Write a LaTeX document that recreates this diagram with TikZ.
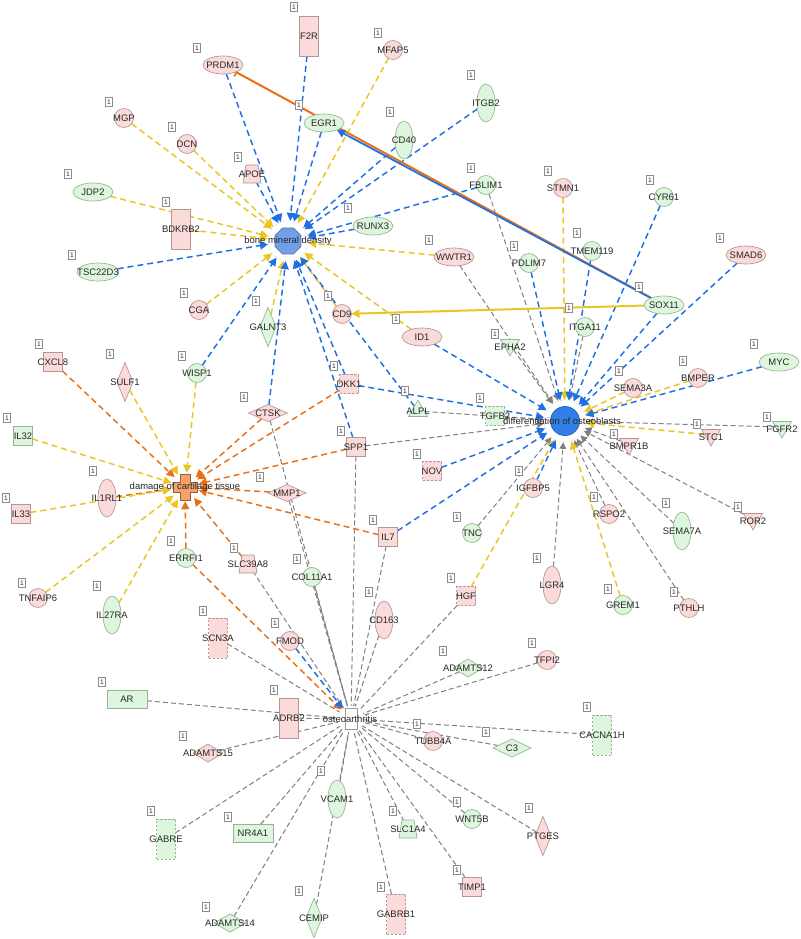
\documentclass[tikz,border=0pt]{standalone}
\usepackage{fontspec}
\setmainfont{Liberation Sans}
\usetikzlibrary{shapes.geometric,arrows.meta,backgrounds}
\definecolor{ye}{RGB}{234,198,34}
\definecolor{bl}{RGB}{30,112,228}
\definecolor{orr}{RGB}{234,112,22}
\definecolor{gr}{RGB}{128,128,128}
\definecolor{pk}{RGB}{251,218,218}
\definecolor{pkb}{RGB}{180,150,150}
\definecolor{gn}{RGB}{222,246,222}
\definecolor{gnb}{RGB}{150,180,150}
\definecolor{tx}{RGB}{40,40,40}
\definecolor{bmdf}{RGB}{112,160,232}
\definecolor{dof}{RGB}{48,128,232}
\definecolor{dctf}{RGB}{246,162,104}
\tikzset{
 lab/.style={font=\fontsize{7.1}{8}\selectfont, text=tx, inner sep=0pt},
 labd/.style={lab, yshift=-2pt},
 pkf/.style={draw=pkb, fill=pk, line width=0.5pt, inner sep=0pt, outer sep=0pt},
 gnf/.style={draw=gnb, fill=gn, line width=0.5pt, inner sep=0pt, outer sep=0pt},
 dnode/.style={dash pattern=on 1.8pt off 1.2pt},
 circ/.style={circle, minimum size=14.25pt},
 ell/.style={ellipse, minimum width=30pt, minimum height=13.5pt},
 vell/.style={ellipse, minimum width=13.5pt, minimum height=28.5pt},
 sq/.style={rectangle, minimum width=14.25pt, minimum height=14.25pt},
 trect/.style={rectangle, minimum width=14.25pt, minimum height=30pt},
 wrect/.style={rectangle, minimum width=30pt, minimum height=13.5pt},
 wdia/.style={diamond, minimum width=28.5pt, minimum height=12.75pt},
 sdia/.style={diamond, minimum width=22.5pt, minimum height=13.5pt},
 tdia/.style={diamond, minimum width=12pt, minimum height=29.25pt},
 triup/.style={regular polygon, regular polygon sides=3, minimum size=16.4pt},
 tridn/.style={triup, shape border rotate=180},
 conn/.style={circle, minimum size=13pt, inner sep=0pt, outer sep=0pt},
 onebox/.style={draw=black!45, fill=white, line width=0.4pt, font=\fontsize{5}{5}\selectfont, text=tx, inner sep=0pt, minimum width=5pt, minimum height=7pt},
 ey/.style={draw=ye, line width=1.1pt, dash pattern=on 4.5pt off 3pt, -{Triangle[length=6pt,width=6pt]}},
 eb/.style={ey, draw=bl},
 eo/.style={ey, draw=orr},
 eg/.style={draw=gr, line width=0.75pt, dash pattern=on 3.75pt off 2.25pt, -{Triangle[length=5pt,width=5pt]}},
 egn/.style={draw=gr, line width=0.75pt, dash pattern=on 3.75pt off 2.25pt},
}
\newcommand\mkone[3]{\node[onebox] (one-#1) at (#2,#3) {1};}
% trapezoid: name, x, y, fill style, text
\newcommand\mktrap[5]{\filldraw[#4] (#2-6,#3-9) -- (#2+6,#3-9) -- (#2+9,#3+9) -- (#2-9,#3+9) -- cycle;
 \node[conn,label={[lab]center:#5}] (#1) at (#2,#3) {};}
\begin{document}
\begin{tikzpicture}[x=0.75pt,y=-0.75pt]
\useasboundingbox (0,0) rectangle (800,939);
% hubs
\node[circle, minimum size=30pt, draw=black!22, line width=0.4pt, densely dotted, fill=white] (bmd) at (288,241) {};
\node[regular polygon, regular polygon sides=8, minimum size=21pt, inner sep=0pt, fill=bmdf, draw=bmdf!70!black, line width=0.5pt] (bmd-oct) at (288,241) {};
\node[circle, minimum size=31.5pt, draw=black!22, line width=0.4pt, densely dotted, fill=white] (dob) at (565,421) {};
\node[circle, minimum size=21.75pt, inner sep=0pt, fill=dof, draw=dof!70!black, line width=0.5pt] (dob-c) at (565,421) {};
\node[circle, minimum size=21pt] (dct) at (185,487) {};
\filldraw[fill=dctf, draw=dctf!60!black, line width=0.5pt] (180,474) -- (190,474) -- (190,482) -- (197,482) -- (197,492) -- (190,492) -- (190,500) -- (180,500) -- (180,492) -- (173,492) -- (173,482) -- (180,482) -- cycle;
\node[circle, minimum size=19.5pt] (oa) at (351,719) {};
\node[rectangle, minimum width=9pt, minimum height=16pt, fill=white, draw=black!40, line width=0.5pt] (oa-box) at (351,719) {};
% genes: upper left / BMD
\node[pkf,ell,label={[lab]center:PRDM1}] (prdm1) at (223,65) {};
\node[pkf,circ,label={[lab]center:MGP}] (mgp) at (124,118) {};
\node[pkf,circ,label={[lab]center:DCN}] (dcn) at (187,144) {};
\mktrap{apoe}{252}{174}{pkf}{APOE}
\node[gnf,ell,label={[lab]center:JDP2}] (jdp2) at (93,192) {};
\node[pkf,trect,label={[lab]center:BDKRB2}] (bdkrb2) at (181,229) {};
\node[gnf,ell,minimum width=31.5pt,label={[lab]center:TSC22D3}] (tsc22d3) at (98,272) {};
\node[pkf,circ,label={[lab]center:CGA}] (cga) at (199,310) {};
\node[pkf,trect,label={[lab]center:F2R}] (f2r) at (309,36) {};
\node[pkf,circ,label={[lab]center:MFAP5}] (mfap5) at (393,50) {};
\node[gnf,ell,label={[lab]center:EGR1}] (egr1) at (324,123) {};
\node[gnf,vell,label={[lab]center:CD40}] (cd40) at (404,140) {};
\node[gnf,vell,label={[lab]center:ITGB2}] (itgb2) at (486,103) {};
\node[gnf,circ,label={[lab]center:FBLIM1}] (fblim1) at (486,185) {};
\node[gnf,ell,label={[lab]center:RUNX3}] (runx3) at (373,226) {};
\node[pkf,ell,label={[lab]center:WWTR1}] (wwtr1) at (454,257) {};
\node[gnf,circ,label={[lab]center:PDLIM7}] (pdlim7) at (529,263) {};
\node[pkf,circ,label={[lab]center:CD9}] (cd9) at (342,314) {};
\node[pkf,circ,label={[lab]center:STMN1}] (stmn1) at (563,188) {};
\node[gnf,circ,label={[lab]center:CYR61}] (cyr61) at (664,197) {};
\node[gnf,circ,label={[lab]center:TMEM119}] (tmem119) at (592,251) {};
\node[pkf,ell,label={[lab]center:SMAD6}] (smad6) at (746,255) {};
\node[gnf,ell,label={[lab]center:SOX11}] (sox11) at (664,305) {};
\node[gnf,circ,label={[lab]center:ITGA11}] (itga11) at (585,327) {};
% left / DCT
\node[pkf,sq,label={[lab]center:CXCL8}] (cxcl8) at (53,362) {};
\node[pkf,tdia,label={[lab]center:SULF1}] (sulf1) at (125,382) {};
\node[gnf,circ,label={[lab]center:WISP1}] (wisp1) at (197,373) {};
\node[pkf,wdia,minimum width=29pt,label={[lab]center:CTSK}] (ctsk) at (268,413) {};
\node[gnf,sq,label={[lab]center:IL32}] (il32) at (23,436) {};
\node[pkf,vell,label={[lab]center:IL1RL1}] (il1rl1) at (107,498) {};
\node[pkf,sq,label={[lab]center:IL33}] (il33) at (21,514) {};
\node[gnf,circ,label={[lab]center:ERRFI1}] (errfi1) at (186,558) {};
\mktrap{slc39a8}{248}{564}{pkf}{SLC39A8}
\node[pkf,circ,label={[lab]center:TNFAIP6}] (tnfaip6) at (38,598) {};
\node[gnf,vell,label={[lab]center:IL27RA}] (il27ra) at (112,615) {};
% center
\node[pkf,ell,label={[lab]center:ID1}] (id1) at (422,337) {};
\node[gnf,tdia,label={[lab]center:GALNT3}] (galnt3) at (268,327) {};
\node[gnf,tridn,label={[labd]center:EPHA2}] (epha2) at (510,345) {};
\node[pkf,sq,dnode,label={[lab]center:DKK1}] (dkk1) at (349,384) {};
\node[gnf,triup,label={[lab]center:ALPL}] (alpl) at (418,411) {};
\node[gnf,sq,dnode,label={[lab]center:TGFB2}] (tgfb2) at (495,416) {};
\node[pkf,sq,label={[lab]center:SPP1}] (spp1) at (356,447) {};
\node[pkf,sq,dnode,label={[lab]center:NOV}] (nov) at (432,471) {};
\node[pkf,wdia,label={[lab]center:MMP1}] (mmp1) at (287,493) {};
\node[pkf,sq,label={[lab]center:IL7}] (il7) at (388,537) {};
\node[gnf,circ,label={[lab]center:TNC}] (tnc) at (472,533) {};
\node[pkf,circ,label={[lab]center:IGFBP5}] (igfbp5) at (533,488) {};
\node[gnf,circ,label={[lab]center:COL11A1}] (col11a1) at (312,577) {};
\node[pkf,sq,dnode,label={[lab]center:HGF}] (hgf) at (466,596) {};
\node[pkf,vell,label={[lab]center:CD163}] (cd163) at (384,620) {};
% right / DO
\node[gnf,ell,label={[lab]center:MYC}] (myc) at (779,362) {};
\node[pkf,circ,label={[lab]center:BMPER}] (bmper) at (698,378) {};
\node[pkf,circ,label={[lab]center:SEMA3A}] (sema3a) at (633,388) {};
\node[gnf,tridn,label={[labd]center:FGFR2}] (fgfr2) at (782,427) {};
\node[pkf,tridn,label={[labd]center:STC1}] (stc1) at (711,435) {};
\node[pkf,tridn,label={[labd]center:BMPR1B}] (bmpr1b) at (629,444) {};
\node[pkf,circ,label={[lab]center:RSPO2}] (rspo2) at (609,514) {};
\node[gnf,vell,label={[lab]center:SEMA7A}] (sema7a) at (682,531) {};
\node[pkf,tridn,label={[labd]center:ROR2}] (ror2) at (753,519) {};
\node[pkf,vell,label={[lab]center:LGR4}] (lgr4) at (552,585) {};
\node[gnf,circ,label={[lab]center:GREM1}] (grem1) at (623,605) {};
\node[pkf,circ,label={[lab]center:PTHLH}] (pthlh) at (689,608) {};
% bottom / OA
\node[pkf,trect,dnode,label={[lab]center:SCN3A}] (scn3a) at (218,638) {};
\node[pkf,circ,label={[lab]center:FMOD}] (fmod) at (290,641) {};
\node[gnf,wrect,label={[lab]center:AR}] (ar) at (127,699) {};
\node[pkf,trect,label={[lab]center:ADRB2}] (adrb2) at (289,718) {};
\node[pkf,sdia,label={[lab]center:ADAMTS15}] (adamts15) at (208,753) {};
\node[gnf,trect,dnode,label={[lab]center:GABRE}] (gabre) at (166,839) {};
\node[gnf,wrect,label={[lab]center:NR4A1}] (nr4a1) at (253,833) {};
\node[gnf,sdia,minimum width=24pt,label={[lab]center:ADAMTS14}] (adamts14) at (230,923) {};
\node[gnf,sdia,label={[lab]center:ADAMTS12}] (adamts12) at (468,668) {};
\node[pkf,circ,label={[lab]center:TFPI2}] (tfpi2) at (547,660) {};
\node[pkf,circ,label={[lab]center:TUBB4A}] (tubb4a) at (433,741) {};
\node[gnf,wdia,minimum height=13.5pt,label={[lab]center:C3}] (c3) at (512,748) {};
\node[gnf,trect,dnode,label={[lab]center:CACNA1H}] (cacna1h) at (602,735) {};
\node[gnf,vell,label={[lab]center:VCAM1}] (vcam1) at (337,799) {};
\mktrap{slc1a4}{408}{829}{gnf}{SLC1A4}
\node[gnf,circ,label={[lab]center:WNT5B}] (wnt5b) at (472,819) {};
\node[pkf,tdia,label={[lab]center:PTGES}] (ptges) at (543,836) {};
\node[pkf,sq,label={[lab]center:TIMP1}] (timp1) at (472,887) {};
\node[gnf,tdia,label={[lab]center:CEMIP}] (cemip) at (314,918) {};
\node[pkf,trect,dnode,label={[lab]center:GABRB1}] (gabrb1) at (396,914) {};
% "1" boxes
\mkone{prdm1}{197}{48} \mkone{mgp}{109}{102} \mkone{dcn}{172}{127} \mkone{apoe}{238}{157}
\mkone{jdp2}{68}{174} \mkone{bdkrb2}{166}{202} \mkone{tsc22d3}{72}{255} \mkone{cga}{184}{293}
\mkone{f2r}{294}{7} \mkone{mfap5}{378}{33} \mkone{egr1}{299}{105} \mkone{cd40}{390}{112}
\mkone{itgb2}{471}{75} \mkone{fblim1}{471}{168} \mkone{runx3}{348}{208} \mkone{wwtr1}{429}{240}
\mkone{pdlim7}{514}{246} \mkone{cd9}{328}{296} \mkone{stmn1}{548}{171} \mkone{cyr61}{650}{180}
\mkone{tmem119}{577}{233} \mkone{smad6}{720}{238} \mkone{sox11}{639}{287} \mkone{itga11}{569}{308}
\mkone{cxcl8}{39}{344} \mkone{sulf1}{110}{354} \mkone{wisp1}{182}{356} \mkone{ctsk}{244}{397}
\mkone{il32}{7}{418} \mkone{il1rl1}{93}{471} \mkone{il33}{6}{498} \mkone{errfi1}{171}{541}
\mkone{slc39a8}{234}{548} \mkone{tnfaip6}{22}{583} \mkone{il27ra}{97}{586}
\mkone{id1}{396}{319} \mkone{galnt3}{256}{301} \mkone{epha2}{495}{334} \mkone{dkk1}{334}{366}
\mkone{alpl}{405}{391} \mkone{tgfb2}{480}{398} \mkone{spp1}{341}{431} \mkone{nov}{417}{454}
\mkone{mmp1}{260}{477} \mkone{il7}{373}{520} \mkone{tnc}{457}{517} \mkone{igfbp5}{519}{471}
\mkone{col11a1}{297}{559} \mkone{hgf}{451}{578} \mkone{cd163}{369}{592}
\mkone{myc}{754}{344} \mkone{bmper}{683}{361} \mkone{sema3a}{619}{371} \mkone{fgfr2}{767}{417}
\mkone{stc1}{697}{424} \mkone{bmpr1b}{614}{434} \mkone{rspo2}{594}{497} \mkone{sema7a}{666}{503}
\mkone{ror2}{738}{507} \mkone{lgr4}{537}{558} \mkone{grem1}{608}{589} \mkone{pthlh}{674}{592}
\mkone{scn3a}{203}{611} \mkone{fmod}{275}{623} \mkone{ar}{102}{682} \mkone{adrb2}{274}{690}
\mkone{adamts15}{183}{736} \mkone{gabre}{151}{811} \mkone{nr4a1}{228}{817} \mkone{adamts14}{206}{907}
\mkone{adamts12}{443}{651} \mkone{tfpi2}{532}{643} \mkone{tubb4a}{417}{724} \mkone{c3}{486}{732}
\mkone{cacna1h}{587}{707} \mkone{vcam1}{321}{771} \mkone{slc1a4}{393}{811} \mkone{wnt5b}{457}{802}
\mkone{ptges}{529}{808} \mkone{timp1}{457}{870} \mkone{cemip}{299}{891} \mkone{gabrb1}{381}{887}
% hub texts
\node[lab] (bmd-t) at (288,241) {bone mineral density};
\node[lab] (dob-t) at (562,421) {differentiation of osteoblasts};
\node[lab] (dct-t) at (185,487) {damage of cartilage tissue};
\node[lab] (oa-t) at (350,719) {osteoarthritis};
% edges
\begin{pgfonlayer}{background}
\fill[white] (0,0) rectangle (800,939);
\foreach \s in {scn3a,ar,adrb2,adamts15,gabre,nr4a1,adamts14,cemip,vcam1,gabrb1,slc1a4,timp1,wnt5b,ptges,c3,tubb4a,cacna1h,tfpi2,adamts12,hgf,cd163,il7,spp1,col11a1,mmp1,ctsk,slc39a8} \draw[egn] (\s) -- (oa);
\foreach \s in {wwtr1,fblim1,itga11,epha2,alpl,tgfb2,spp1,fgfr2,bmpr1b,ror2,sema7a,pthlh,rspo2,lgr4,tnc} \draw[eg] (\s) -- (dob);
\draw[eo] (errfi1) -- (oa);
\draw[eb] (fmod) -- (oa);
\foreach \s in {mgp,dcn,jdp2,bdkrb2,mfap5,cga,wwtr1,id1,galnt3,cd9} \draw[ey] (\s) -- (bmd);
\foreach \s in {prdm1,apoe,f2r,egr1,cd40,itgb2,fblim1,runx3,tsc22d3,wisp1,ctsk,dkk1,spp1,alpl} \draw[eb] (\s) -- (bmd);
\foreach \s in {stmn1,sema3a,bmper,stc1,hgf,grem1} \draw[ey] (\s) -- (dob);
\foreach \s in {pdlim7,tmem119,cyr61,smad6,sox11,myc,id1,dkk1,nov,il7,igfbp5} \draw[eb] (\s) -- (dob);
\foreach \s in {cxcl8,ctsk,dkk1,il1rl1,spp1,mmp1,il7,slc39a8,errfi1} \draw[eo] (\s) -- (dct);
\foreach \s in {sulf1,wisp1,il32,il33,tnfaip6,il27ra} \draw[ey] (\s) -- (dct);
\draw[draw=orr, line width=1.5pt, -{Bar[width=7pt,line width=1.2pt]}] (sox11) -- (prdm1);
\draw[draw=bl, line width=1.3pt, -{Triangle[length=6pt,width=6pt]}] (sox11) -- (egr1);
\draw[draw=ye, line width=1.5pt, -{Triangle[length=6pt,width=6pt]}] (sox11) -- (cd9);
\end{pgfonlayer}
\end{tikzpicture}
\end{document}
